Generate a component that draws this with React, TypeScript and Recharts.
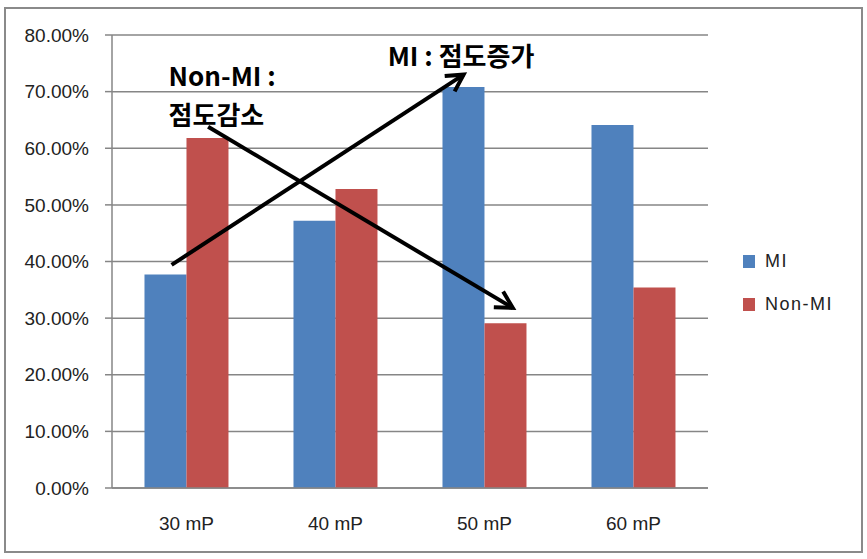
import {
  Bar,
  BarChart,
  CartesianGrid,
  ReferenceDot,
  ReferenceLine,
  XAxis,
  YAxis,
} from "recharts";

// Categories and series (values in %)
const categories = ["30 mP", "40 mP", "50 mP", "60 mP"];
const miValues = [37.7, 47.2, 70.8, 64.1];
const nonMiValues = [61.8, 52.8, 29.1, 35.4];
const yTicks = [0, 10, 20, 30, 40, 50, 60, 70, 80];
const boundaryTicks = [0, 1, 2, 3, 4];

const seriesNames = ["MI", "Non-MI"];
const seriesColors = ["#4F81BD", "#C0504D"];

// Hand-drawn arrows, in (category-index, %) coordinates
const arrowMI = [
  { x: 0.4, y: 39.4 },
  { x: 2.36, y: 73.0 },
];
const arrowNonMI = [
  { x: 0.645, y: 63.8 },
  { x: 2.69, y: 31.8 },
];

// Annotation texts, in the same coordinates
const notes = [
  { text: "MI : 점도증가", x: 1.85, y: 76.5 },
  { text: "Non-MI :", x: 0.38, y: 73.1 },
  { text: "점도감소", x: 0.38, y: 66.1 },
];

const data = categories.map((c, i) => ({
  name: c,
  pos: i + 0.5,
  mi: miValues[i],
  nonMi: nonMiValues[i],
}));

const GRID = "#868686";
const FONT = "'Liberation Sans', Arial, sans-serif";

function Arrow(props: any) {
  const { x1, y1, x2, y2 } = props;
  const ang = Math.atan2(y2 - y1, x2 - x1);
  const len = 19;
  const spread = 0.5;
  const ax = x2 - len * Math.cos(ang - spread);
  const ay = y2 - len * Math.sin(ang - spread);
  const bx = x2 - len * Math.cos(ang + spread);
  const by = y2 - len * Math.sin(ang + spread);
  return (
    <g>
      <line x1={x1} y1={y1} x2={x2} y2={y2} stroke="#000" strokeWidth={4} />
      <polyline
        points={`${ax},${ay} ${x2},${y2} ${bx},${by}`}
        fill="none"
        stroke="#000"
        strokeWidth={4}
        strokeLinejoin="miter"
      />
    </g>
  );
}

function noteShape(text: string) {
  return (p: any) => (
    <text
      x={p.cx}
      y={p.cy}
      dominantBaseline="central"
      fontFamily="'Noto Sans CJK KR', sans-serif"
      fontWeight={700}
      fontSize={26}
      fill="#000"
    >
      {text}
    </text>
  );
}

export default function App() {
  return (
    <div style={{ position: "absolute", left: 0, top: 0, width: 867, height: 559, background: "#fff" }}>
      <div
        style={{
          position: "absolute",
          left: 4,
          top: 7,
          width: 855,
          height: 542,
          border: "2px solid #8a8a8a",
        }}
      />
      <div style={{ position: "absolute", left: 0, top: 0 }}>
        <BarChart
          width={867}
          height={559}
          data={data}
          margin={{ top: 35, right: 159, bottom: 31, left: 32 }}
          barCategoryGap="21.8%"
          barGap={0}
        >
          <CartesianGrid vertical={false} stroke={GRID} strokeWidth={1.5} />
          <XAxis
            xAxisId="num"
            dataKey="pos"
            type="number"
            domain={[0, 4]}
            allowDataOverflow
            ticks={boundaryTicks}
            tickFormatter={() => ""}
            axisLine={false}
            tickSize={7}
            tickLine={{ stroke: GRID, strokeWidth: 1.5 }}
            height={0}
          />
          <XAxis
            dataKey="name"
            axisLine={{ stroke: GRID, strokeWidth: 1.5 }}
            tickLine={false}
            tickSize={0}
            tickMargin={29}
            height={40}
            tick={{ fill: "#222", fontSize: 19, fontFamily: FONT }}
          />
          <YAxis
            domain={[0, 80]}
            ticks={yTicks}
            width={80}
            tickFormatter={(v) => `${Number(v).toFixed(2)}%`}
            axisLine={{ stroke: GRID, strokeWidth: 1.5 }}
            tickLine={{ stroke: GRID, strokeWidth: 1.5 }}
            tickSize={7}
            tickMargin={16}
            tick={{ fill: "#222", fontSize: 19, fontFamily: FONT }}
          />
          <Bar dataKey="mi" name={seriesNames[0]} fill={seriesColors[0]} isAnimationActive={false} />
          <Bar dataKey="nonMi" name={seriesNames[1]} fill={seriesColors[1]} isAnimationActive={false} />
          <ReferenceLine xAxisId="num" segment={arrowMI} shape={Arrow} ifOverflow="visible" />
          <ReferenceLine xAxisId="num" segment={arrowNonMI} shape={Arrow} ifOverflow="visible" />
          {notes.map((n) => (
            <ReferenceDot
              key={n.text}
              xAxisId="num"
              x={n.x}
              y={n.y}
              r={0}
              ifOverflow="visible"
              shape={noteShape(n.text)}
            />
          ))}
        </BarChart>
      </div>
      {seriesNames.map((s, i) => (
        <div
          key={s}
          style={{
            position: "absolute",
            left: 743,
            top: 251 + i * 43,
            display: "flex",
            alignItems: "center",
            fontFamily: FONT,
            fontSize: 18,
            letterSpacing: 1.5,
            color: "#222",
          }}
        >
          <span style={{ display: "inline-block", width: 12, height: 13, background: seriesColors[i], marginRight: 10 }} />
          <span>{s}</span>
        </div>
      ))}
    </div>
  );
}
